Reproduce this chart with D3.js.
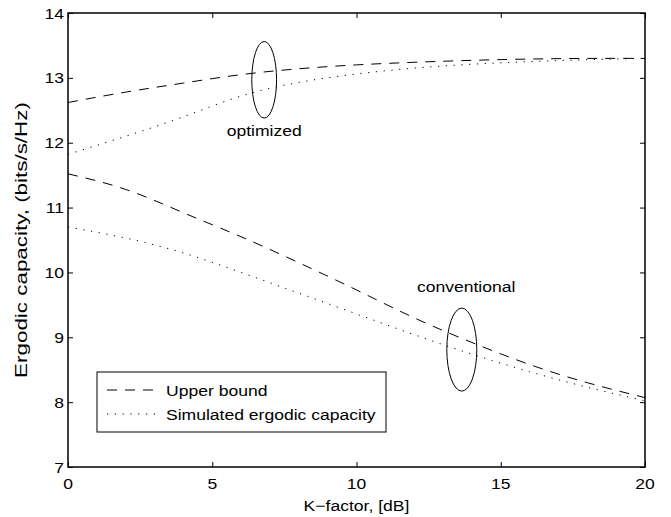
<!DOCTYPE html>
<html>
<head>
<meta charset="utf-8">
<script src="https://cdn.jsdelivr.net/npm/d3@7"></script>
<style>
  body { margin: 0; background: #fff; }
  svg { display: block; }
  text { font-family: "Liberation Sans", Arial, sans-serif; fill: #000; }
</style>
</head>
<body>
<svg id="chart" width="671" height="517"></svg>
<script>
// ---- data ----
const kFactor = [0, 2, 4, 6, 8, 10, 12, 14, 16, 18, 20];
const optUpper = [12.62, 12.78, 12.92, 13.05, 13.14, 13.20, 13.24, 13.27, 13.29, 13.30, 13.30];
const optSim   = [11.82, 12.10, 12.40, 12.72, 12.93, 13.06, 13.15, 13.21, 13.25, 13.28, 13.30];
const convUpper = [11.52, 11.28, 10.92, 10.55, 10.15, 9.73, 9.30, 8.92, 8.58, 8.30, 8.07];
const convSim   = [10.70, 10.53, 10.30, 10.00, 9.68, 9.36, 9.04, 8.74, 8.47, 8.23, 8.02];
const xTicks = [0, 5, 10, 15, 20];
const yTicks = [7, 8, 9, 10, 11, 12, 13, 14];
const legendLabels = ["Upper bound", "Simulated ergodic capacity"];
const annotations = [
  { label: "optimized", cx: 6.8, cy: 12.97, rxU: 0.43, ryU: 0.59, tx: 6.8, ty: 12.1 },
  { label: "conventional", cx: 13.65, cy: 8.81, rxU: 0.52, ryU: 0.64, tx: 13.8, ty: 9.7 }
];

// ---- layout ----
const svg = d3.select("#chart");
const L = 68, R = 645, T = 13, B = 467;
const x = d3.scaleLinear().domain([0, 20]).range([L, R]);
const y = d3.scaleLinear().domain([7, 14]).range([B, T]);
const FS = 15, SX = 1.17;

function label(g, px, py, str, anchor, rot, fs, sx) {
  return g.append("text")
    .attr("transform", `translate(${px},${py})` + (rot ? ` rotate(${rot})` : "") + ` scale(${sx || SX},1)`)
    .attr("text-anchor", anchor).style("font-size", (fs || FS) + "px").text(str);
}

// axes (ticks inward, box style)
const tickLen = 5;
const fmt = d3.format("d");
svg.append("g").attr("transform", `translate(0,${B})`)
  .call(d3.axisBottom(x).tickValues(xTicks).tickSize(-tickLen).tickFormat(""))
  .call(g => g.select(".domain").remove());
svg.append("g").attr("transform", `translate(0,${T})`)
  .call(d3.axisTop(x).tickValues(xTicks).tickSize(-tickLen).tickFormat(""))
  .call(g => g.select(".domain").remove());
svg.append("g").attr("transform", `translate(${L},0)`)
  .call(d3.axisLeft(y).tickValues(yTicks).tickSize(-tickLen).tickFormat(""))
  .call(g => g.select(".domain").remove());
svg.append("g").attr("transform", `translate(${R},0)`)
  .call(d3.axisRight(y).tickValues(yTicks).tickSize(-tickLen).tickFormat(""))
  .call(g => g.select(".domain").remove());
svg.selectAll(".tick line").attr("stroke", "#000");

const tl = svg.append("g");
xTicks.forEach(v => label(tl, x(v), B + 22, fmt(v), "middle"));
yTicks.forEach(v => label(tl, L - 4, y(v) + 5.5, fmt(v), "end"));

svg.append("rect").attr("x", L).attr("y", T).attr("width", R - L).attr("height", B - T)
  .attr("fill", "none").attr("stroke", "#000").attr("stroke-width", 1.5);

// lines
const line = d3.line().x((d, i) => x(kFactor[i])).y(d => y(d)).curve(d3.curveNatural);
const dash = "10,8", dot = "1.2,6.6";
[[optUpper, dash], [optSim, dot], [convUpper, dash], [convSim, dot]].forEach(([vals, da]) => {
  svg.append("path").datum(vals).attr("d", line)
    .attr("fill", "none").attr("stroke", "#000").attr("stroke-width", 1)
    .attr("stroke-dasharray", da);
});

// annotations
annotations.forEach(a => {
  svg.append("ellipse").attr("cx", x(a.cx)).attr("cy", y(a.cy))
    .attr("rx", x(a.rxU) - x(0)).attr("ry", y(0) - y(a.ryU))
    .attr("fill", "none").attr("stroke", "#000").attr("stroke-width", 1);
  label(svg, x(a.tx), y(a.ty), a.label, "middle");
});

// legend
const lg = svg.append("g");
lg.append("rect").attr("x", 97).attr("y", 372).attr("width", 289).attr("height", 60)
  .attr("fill", "#fff").attr("stroke", "#000").attr("stroke-width", 1);
[dash, dot].forEach((da, i) => {
  const yy = 390 + i * 24;
  lg.append("line").attr("x1", 107).attr("x2", 158).attr("y1", yy).attr("y2", yy)
    .attr("stroke", "#000").attr("stroke-width", 1).attr("stroke-dasharray", da);
  label(lg, 166, yy + 5.5, legendLabels[i], "start");
});

// axis titles
label(svg, (L + R) / 2, 511, "K\u2212factor, [dB]", "middle");
label(svg, 27, (T + B) / 2, "Ergodic capacity, (bits/s/Hz)", "middle", -90, 16, 1.4);
</script>
</body>
</html>
